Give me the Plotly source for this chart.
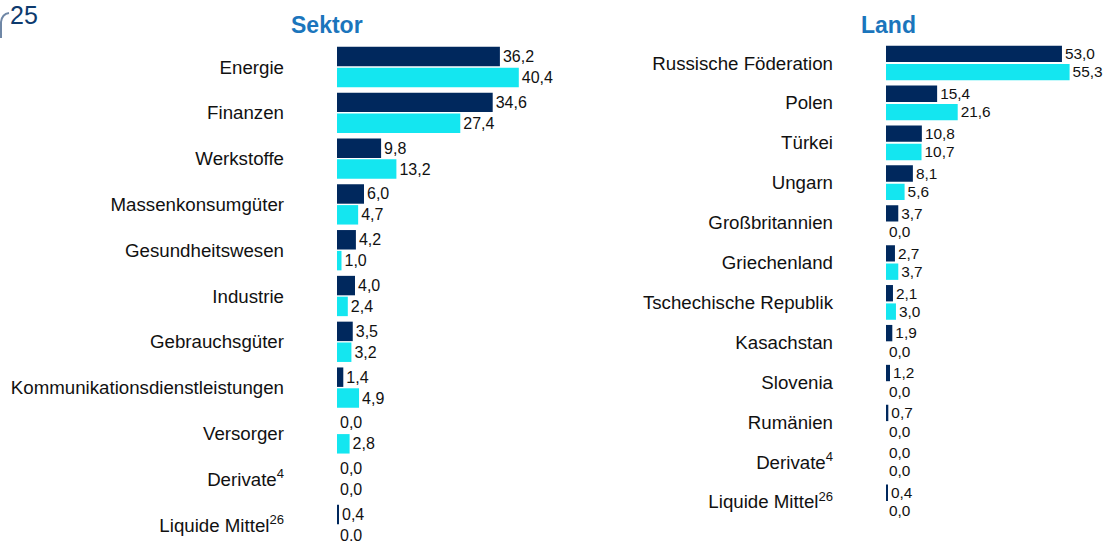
import plotly.graph_objects as go

# --- data -------------------------------------------------------------
sektor_labels = [
    "Energie", "Finanzen", "Werkstoffe", "Massenkonsumgüter",
    "Gesundheitswesen", "Industrie", "Gebrauchsgüter",
    "Kommunikationsdienstleistungen", "Versorger",
    "Derivate<sup>4</sup>", "Liquide Mittel<sup>26</sup>",
]
sektor_fonds = [36.2, 34.6, 9.8, 6.0, 4.2, 4.0, 3.5, 1.4, 0.0, 0.0, 0.4]
sektor_index = [40.4, 27.4, 13.2, 4.7, 1.0, 2.4, 3.2, 4.9, 2.8, 0.0, 0.0]

land_labels = [
    "Russische Föderation", "Polen", "Türkei", "Ungarn", "Großbritannien",
    "Griechenland", "Tschechische Republik", "Kasachstan", "Slovenia",
    "Rumänien", "Derivate<sup>4</sup>", "Liquide Mittel<sup>26</sup>",
]
land_fonds = [53.0, 15.4, 10.8, 8.1, 3.7, 2.7, 2.1, 1.9, 1.2, 0.7, 0.0, 0.4]
land_index = [55.3, 21.6, 10.7, 5.6, 0.0, 3.7, 3.0, 0.0, 0.0, 0.0, 0.0, 0.0]

# --- styling ----------------------------------------------------------
W, H = 1106, 541
NAVY = "#00285d"
CYAN = "#14e6f0"
TITLE_BLUE = "#1b75bc"
FONT = "Liberation Sans, Arial, sans-serif"


def de(v):
    return f"{v:.1f}".replace(".", ",")


def px_x(p):
    return p / W


def px_y(p):
    return 1 - p / H


fig = go.Figure()


def add_pair(labels, first, second, xa, ya, width, gap):
    for vals, color, offset in ((first, NAVY, -gap / 2 - width),
                                (second, CYAN, gap / 2)):
        fig.add_trace(go.Bar(
            y=labels, x=vals, orientation="h",
            marker=dict(color=color, line=dict(width=0)),
            width=width, offset=offset,
            text=[de(v) for v in vals], textposition="outside",
            textfont=dict(size=16, color="#111111", family=FONT),
            cliponaxis=False, showlegend=False,
            xaxis=xa, yaxis=ya, hoverinfo="skip",
        ))


add_pair(sektor_labels, sektor_fonds, sektor_index, "x", "y", 0.425, 0.03)
add_pair(land_labels, land_fonds, land_index, "x2", "y2", 0.41, 0.05)

# Sektor: 4.5 px per unit, rows 45.8 px apart
s_x0, s_scale, s_max = 337, 4.5, 50
s_row, s_top = 45.8, 67 - 45.8 / 2
s_units = (H - s_top) / s_row

# Land: 3.32 px per unit, rows 39.9 px apart
l_x0, l_scale, l_max = 886, 3.32, 60
l_row, l_top = 39.9, 63 - 39.9 / 2
l_bottom = l_top + len(land_labels) * l_row

axis_common = dict(showgrid=False, zeroline=False, showline=False,
                   showticklabels=False, ticks="", fixedrange=True)
yaxis_common = dict(showgrid=False, zeroline=False, showline=False,
                    ticks="", ticklabelstandoff=52,
                    tickfont=dict(size=18.7, color="#111111", family=FONT),
                    fixedrange=True)

fig.update_layout(
    width=W, height=H,
    margin=dict(l=0, r=0, t=0, b=0),
    paper_bgcolor="white", plot_bgcolor="white",
    barmode="overlay",
    font=dict(family=FONT),
    xaxis=dict(domain=[px_x(s_x0), px_x(s_x0 + s_scale * s_max)],
               range=[0, s_max], anchor="y", **axis_common),
    yaxis=dict(domain=[0, px_y(s_top)], anchor="x",
               range=[-0.5 + s_units, -0.5],
               categoryorder="array", categoryarray=sektor_labels,
               **yaxis_common),
    xaxis2=dict(domain=[px_x(l_x0), px_x(l_x0 + l_scale * l_max)],
                range=[0, l_max], anchor="y2", **axis_common),
    yaxis2=dict(domain=[px_y(l_bottom), px_y(l_top)], anchor="x2",
                range=[len(land_labels) - 0.5, -0.5],
                categoryorder="array", categoryarray=land_labels,
                **yaxis_common),
    annotations=[
        dict(text="<b>Sektor</b>", x=px_x(327), y=px_y(25),
             xanchor="center", yanchor="middle",
             xref="paper", yref="paper", showarrow=False,
             font=dict(size=23, color=TITLE_BLUE, family=FONT)),
        dict(text="<b>Land</b>", x=px_x(888), y=px_y(25),
             xanchor="center", yanchor="middle",
             xref="paper", yref="paper", showarrow=False,
             font=dict(size=23, color=TITLE_BLUE, family=FONT)),
        dict(text="25", x=px_x(8), y=px_y(-1), xanchor="left", yanchor="top",
             xref="paper", yref="paper", showarrow=False,
             font=dict(size=25, color="#0d3a6e", family=FONT)),
    ],
    shapes=[
        dict(type="path", xref="paper", yref="paper",
             path=f"M {px_x(1)},{px_y(38)} L {px_x(1)},{px_y(22)} "
                  f"Q {px_x(2)},{px_y(14)} {px_x(9)},{px_y(13)}",
             line=dict(color="#6f87a6", width=2)),
    ],
)

fig.write_html("out.html")
